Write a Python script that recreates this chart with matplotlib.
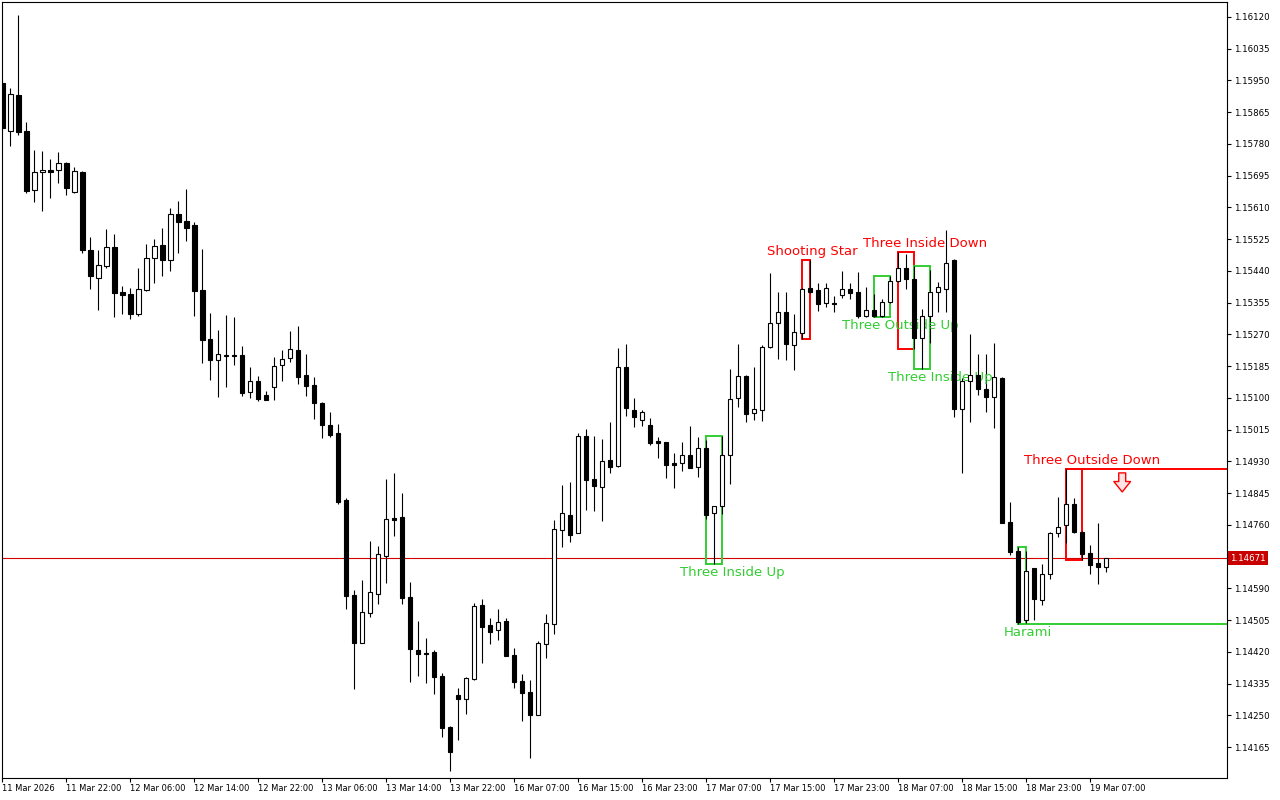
import matplotlib.pyplot as plt
from matplotlib.patches import Rectangle

# H1 EURUSD-style candles
opens = [1.15942, 1.15815, 1.15911, 1.15815, 1.15656, 1.15704, 1.15710, 1.15709, 1.15728, 1.15652,
         1.15704, 1.15495, 1.15422, 1.15454, 1.15503, 1.15383, 1.15377, 1.15325, 1.15390, 1.15474,
         1.15509, 1.15468, 1.15592, 1.15573, 1.15562, 1.15388, 1.15258, 1.15200, 1.15213, 1.15213,
         1.15215, 1.15115, 1.15145, 1.15107, 1.15130, 1.15187, 1.15206, 1.15227, 1.15160, 1.15134,
         1.15086, 1.15027, 1.15006, 1.14826, 1.14571, 1.14444, 1.14525, 1.14576, 1.14677, 1.14777,
         1.14781, 1.14567, 1.14425, 1.14417, 1.14419, 1.14355, 1.14219, 1.14304, 1.14293, 1.14347,
         1.14545, 1.14492, 1.14478, 1.14502, 1.14411, 1.14342, 1.14312, 1.14251, 1.14442, 1.14495,
         1.14747, 1.14786, 1.14739, 1.14998, 1.14883, 1.14860, 1.14934, 1.14917, 1.15183, 1.15068,
         1.15040, 1.15027, 1.14985, 1.14982, 1.14925, 1.14925, 1.14946, 1.14914, 1.14965, 1.14791,
         1.14811, 1.14946, 1.15099, 1.15159, 1.15059, 1.15068, 1.15235, 1.15300, 1.15329, 1.15241,
         1.15273, 1.15393, 1.15389, 1.15353, 1.15353, 1.15375, 1.15391, 1.15384, 1.15320, 1.15335,
         1.15320, 1.15356, 1.15412, 1.15449, 1.15418, 1.15260, 1.15318, 1.15383, 1.15391, 1.15469,
         1.15069, 1.15145, 1.15160, 1.15123, 1.15102, 1.15152, 1.14768, 1.14690, 1.14504, 1.14644,
         1.14558, 1.14627, 1.14737, 1.14759, 1.14816, 1.14742, 1.14684, 1.14657, 1.14648]
highs = [1.15951, 1.15930, 1.16125, 1.15839, 1.15764, 1.15761, 1.15740, 1.15758, 1.15731, 1.15718,
         1.15707, 1.15531, 1.15496, 1.15552, 1.15539, 1.15400, 1.15394, 1.15448, 1.15512, 1.15525,
         1.15555, 1.15608, 1.15627, 1.15659, 1.15570, 1.15499, 1.15326, 1.15282, 1.15322, 1.15317,
         1.15239, 1.15183, 1.15159, 1.15118, 1.15209, 1.15227, 1.15279, 1.15292, 1.15217, 1.15155,
         1.15089, 1.15062, 1.15030, 1.14832, 1.14585, 1.14612, 1.14717, 1.14703, 1.14883, 1.14899,
         1.14845, 1.14607, 1.14502, 1.14457, 1.14425, 1.14364, 1.14221, 1.14323, 1.14352, 1.14551,
         1.14561, 1.14510, 1.14535, 1.14510, 1.14430, 1.14360, 1.14344, 1.14449, 1.14521, 1.14773,
         1.14867, 1.14875, 1.15006, 1.15017, 1.14998, 1.14990, 1.15035, 1.15234, 1.15244, 1.15099,
         1.15068, 1.15046, 1.14994, 1.14983, 1.14952, 1.14983, 1.15025, 1.14995, 1.14987, 1.14810,
         1.14998, 1.15177, 1.15244, 1.15160, 1.15183, 1.15241, 1.15433, 1.15384, 1.15384, 1.15325,
         1.15394, 1.15469, 1.15408, 1.15408, 1.15373, 1.15440, 1.15408, 1.15437, 1.15398, 1.15378,
         1.15365, 1.15425, 1.15491, 1.15485, 1.15453, 1.15337, 1.15442, 1.15411, 1.15550, 1.15472,
         1.15152, 1.15270, 1.15217, 1.15217, 1.15246, 1.15155, 1.14821, 1.14700, 1.14690, 1.14645,
         1.14655, 1.14742, 1.14835, 1.14910, 1.14832, 1.14744, 1.14707, 1.14765, 1.14671]
lows = [1.15815, 1.15775, 1.15804, 1.15649, 1.15625, 1.15601, 1.15636, 1.15676, 1.15644, 1.15648,
        1.15489, 1.15392, 1.15336, 1.15449, 1.15317, 1.15325, 1.15312, 1.15320, 1.15387, 1.15408,
        1.15427, 1.15441, 1.15489, 1.15521, 1.15320, 1.15194, 1.15149, 1.15103, 1.15130, 1.15189,
        1.15106, 1.15100, 1.15092, 1.15094, 1.15095, 1.15146, 1.15196, 1.15138, 1.15106, 1.15044,
        1.14993, 1.14994, 1.14817, 1.14535, 1.14321, 1.14443, 1.14514, 1.14549, 1.14605, 1.14731,
        1.14549, 1.14340, 1.14356, 1.14337, 1.14308, 1.14193, 1.14102, 1.14185, 1.14254, 1.14345,
        1.14391, 1.14442, 1.14452, 1.14409, 1.14324, 1.14235, 1.14136, 1.14250, 1.14404, 1.14468,
        1.14701, 1.14715, 1.14738, 1.14800, 1.14798, 1.14771, 1.14900, 1.14916, 1.15052, 1.15023,
        1.15025, 1.14973, 1.14940, 1.14886, 1.14859, 1.14905, 1.14912, 1.14889, 1.14775, 1.14654,
        1.14789, 1.14870, 1.15075, 1.15035, 1.15041, 1.15039, 1.15234, 1.15203, 1.15200, 1.15175,
        1.15257, 1.15381, 1.15333, 1.15343, 1.15330, 1.15368, 1.15365, 1.15315, 1.15316, 1.15317,
        1.15317, 1.15355, 1.15411, 1.15391, 1.15232, 1.15177, 1.15248, 1.15329, 1.15331, 1.15050,
        1.14900, 1.15034, 1.15108, 1.15063, 1.15020, 1.14764, 1.14679, 1.14494, 1.14498, 1.14504,
        1.14545, 1.14616, 1.14728, 1.14711, 1.14737, 1.14666, 1.14628, 1.14602, 1.14634]
closes = [1.15822, 1.15913, 1.15813, 1.15655, 1.15704, 1.15709, 1.15706, 1.15728, 1.15663, 1.15707,
          1.15497, 1.15425, 1.15455, 1.15503, 1.15382, 1.15376, 1.15325, 1.15391, 1.15474, 1.15506,
          1.15470, 1.15592, 1.15572, 1.15556, 1.15387, 1.15256, 1.15200, 1.15217, 1.15215, 1.15215,
          1.15114, 1.15145, 1.15097, 1.15095, 1.15185, 1.15203, 1.15230, 1.15157, 1.15133, 1.15087,
          1.15028, 1.15001, 1.14822, 1.14570, 1.14444, 1.14526, 1.14579, 1.14682, 1.14776, 1.14774,
          1.14565, 1.14428, 1.14415, 1.14415, 1.14353, 1.14217, 1.14152, 1.14294, 1.14349, 1.14543,
          1.14487, 1.14474, 1.14500, 1.14410, 1.14340, 1.14310, 1.14251, 1.14444, 1.14496, 1.14748,
          1.14791, 1.14734, 1.14997, 1.14881, 1.14865, 1.14930, 1.14916, 1.15182, 1.15074, 1.15050,
          1.15063, 1.14980, 1.14978, 1.14921, 1.14921, 1.14946, 1.14913, 1.14965, 1.14786, 1.14810,
          1.14946, 1.15096, 1.15159, 1.15056, 1.15069, 1.15235, 1.15300, 1.15329, 1.15243, 1.15276,
          1.15391, 1.15384, 1.15351, 1.15393, 1.15351, 1.15391, 1.15380, 1.15320, 1.15335, 1.15320,
          1.15356, 1.15412, 1.15449, 1.15418, 1.15260, 1.15320, 1.15383, 1.15397, 1.15460, 1.15069,
          1.15146, 1.15160, 1.15123, 1.15103, 1.15155, 1.14766, 1.14687, 1.14500, 1.14636, 1.14562,
          1.14627, 1.14738, 1.14755, 1.14815, 1.14741, 1.14683, 1.14653, 1.14648, 1.14671]

bid_price = 1.14671

# candle patterns
pattern_names = ["Three Inside Up", "Shooting Star", "Three Outside Up", "Three Inside Down",
                 "Three Inside Up", "Harami", "Three Outside Down"]
pattern_start = [88, 100, 109, 112, 114, 127, 133]
pattern_end = [90, 101, 111, 114, 116, 128, 135]
pattern_bull = [True, False, True, False, True, True, False]
pattern_label_x = [91.3, 101.2, 112.2, 115.3, 117.2, 128.2, 136.2]
pattern_extend = [False, False, False, False, False, True, True]

# sell signal arrow (bar, tail price, tip price)
signal_bar = 140
signal_from = 1.14899
signal_to = 1.14848

x_tick_labels = ["11 Mar 2026", "11 Mar 22:00", "12 Mar 06:00", "12 Mar 14:00", "12 Mar 22:00",
                 "13 Mar 06:00", "13 Mar 14:00", "13 Mar 22:00", "16 Mar 07:00", "16 Mar 15:00",
                 "16 Mar 23:00", "17 Mar 07:00", "17 Mar 15:00", "17 Mar 23:00", "18 Mar 07:00",
                 "18 Mar 15:00", "18 Mar 23:00", "19 Mar 07:00"]
y_ticks = [1.16120, 1.16035, 1.15950, 1.15865, 1.15780, 1.15695, 1.15610, 1.15525, 1.15440,
           1.15355, 1.15270, 1.15185, 1.15100, 1.15015, 1.14930, 1.14845, 1.14760, 1.14590,
           1.14505, 1.14420, 1.14335, 1.14250, 1.14165]

RED = "#ff0000"
GREEN = "#32cd32"

fig = plt.figure(figsize=(12.8, 8), dpi=100)
ax = fig.add_axes([2 / 1280, 22 / 800, 1225 / 1280, 776 / 800])

n = len(opens)
xs = list(range(n))
ax.vlines(xs, lows, highs, color="black", linewidth=0.8, zorder=3)
body_bottom = [min(o, c) for o, c in zip(opens, closes)]
body_height = [max(abs(c - o), 0.000005) for o, c in zip(opens, closes)]
face = ["white" if c > o else "black" for o, c in zip(opens, closes)]
ax.bar(xs, body_height, bottom=body_bottom, width=0.55, color=face,
       edgecolor="black", linewidth=0.8, zorder=4)

# current price line
ax.axhline(bid_price, color="#d40000", linewidth=0.8, zorder=1)

xmax = 153.1
for name, s, e, bull, lx, ext in zip(pattern_names, pattern_start, pattern_end,
                                     pattern_bull, pattern_label_x, pattern_extend):
    top = max(highs[s:e + 1])
    bot = min(lows[s:e + 1])
    col = GREEN if bull else RED
    ax.add_patch(Rectangle((s, bot), e - s, top - bot, fill=False, edgecolor=col,
                           linewidth=1.4, zorder=2))
    if ext:
        yline = bot if bull else top
        ax.plot([s, xmax], [yline, yline], color=col, linewidth=1.4, zorder=2)
    if bull:
        ax.annotate(name, (lx, bot), xytext=(0, -6), textcoords="offset points",
                    ha="center", va="center", color=col, fontsize=9.5)
    else:
        ax.annotate(name, (lx, top), xytext=(0, 6), textcoords="offset points",
                    ha="center", va="center", color=col, fontsize=9.5)

# hollow sell arrow
ax.annotate("", xy=(signal_bar, signal_to), xytext=(signal_bar, signal_from),
            arrowprops=dict(arrowstyle="simple,head_length=0.75,head_width=1.2,tail_width=0.5",
                            fc="#ffe4e4", ec=RED, lw=1.0, shrinkA=0, shrinkB=0))

ax.set_xlim(-0.04, xmax)
ax.set_ylim(1.14082, 1.16160)

ax.set_xticks(range(0, 8 * len(x_tick_labels), 8))
ax.set_xticklabels(x_tick_labels)
for lab in ax.get_xticklabels():
    lab.set_horizontalalignment("left")
ax.tick_params(axis="x", direction="out", length=3, width=0.8, labelsize=6, pad=1.5)

ax.yaxis.tick_right()
ax.set_yticks(y_ticks)
ax.set_yticklabels([f"{v:.5f}" for v in y_ticks])
ax.tick_params(axis="y", direction="out", length=3, width=0.8, labelsize=6.2, pad=2)

ax.annotate(f"{bid_price:.5f}", (1.0, bid_price), xycoords=("axes fraction", "data"),
            xytext=(2.5, 0), textcoords="offset points", ha="left", va="center",
            color="white", fontsize=6.2,
            bbox=dict(facecolor="#c80000", edgecolor="none", pad=1.5))

for sp in ax.spines.values():
    sp.set_linewidth(0.8)
    sp.set_color("black")

fig.savefig("out.png", dpi=100)
